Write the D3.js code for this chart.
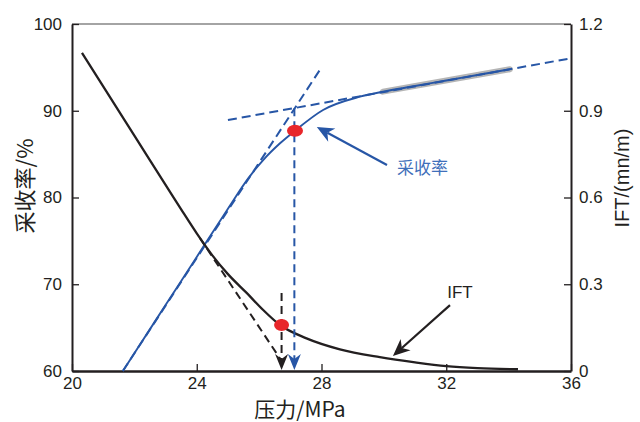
<!DOCTYPE html>
<html><head><meta charset="utf-8">
<script src="https://cdn.jsdelivr.net/npm/d3@7"></script>
<style>
html,body{margin:0;padding:0;background:#fff;}
svg{display:block;}
text{font-family:"Liberation Sans",Arial,sans-serif;fill:#231f20;}
.cjk{font-family:"Noto Sans CJK SC","Liberation Sans",sans-serif;}
</style></head>
<body>
<svg id="chart" width="640" height="422"></svg>
<script>
// ---- data ----
const xTicks = [20, 24, 28, 32, 36];
const leftTicks = [60, 70, 80, 90, 100];
const rightTicks = [0, 0.3, 0.6, 0.9, 1.2];
const rightTickLabels = ["0", "0.3", "0.6", "0.9", "1.2"];

// IFT curve (pressure MPa, IFT mN/m)
const iftPressure = [20.32, 21, 22, 23, 23.5, 24, 24.5, 25.0, 25.6, 26.13, 26.67, 27.52, 28.59, 29.87, 31, 32, 33, 34.3];
const iftValue    = [1.10, 0.984, 0.814, 0.644, 0.559, 0.476, 0.400, 0.335, 0.270, 0.211, 0.159, 0.113, 0.075, 0.048, 0.030, 0.017, 0.010, 0.006];

// Recovery curve (pressure MPa, recovery %)
const recPressure = [21.63, 22, 23, 24, 25, 25.65, 26.13, 26.67, 27.15, 28.05, 29.23, 29.97, 31, 32, 33, 34.04];
const recValue    = [60, 62.05, 67.6, 73.15, 78.7, 82.21, 84.32, 86.25, 87.7, 90.09, 91.62, 92.2, 92.85, 93.49, 94.12, 94.78];

// Tangent / fit lines on recovery
const recTangentP = [21.63, 28.0];
const recTangentV = [60, 95.0];
const recPlateauP = [25.0, 36.0];
const recPlateauV = [88.93, 96.05];
const recHighlightP = [29.97, 34.04];
const recHighlightV = [92.2, 94.78];

// IFT extrapolation line
const iftTangentP = [24.1, 26.72];
const iftTangentV = [0.46, 0.035];

// Markers
const mmpIFT = {p: 26.72, v: 0.159};   // red dot on IFT curve (right axis)
const mmpRec = {p: 27.15, v: 87.7};    // red dot on recovery curve (left axis)
const blackDropP = 26.72, blackDropTop = 0.27;
const blueDropP = 27.13, blueDropTop = 90.3;

// ---- layout ----
const svg = d3.select("#chart");
const L = 72, R = 571, T = 24, B = 371;
const x = d3.scaleLinear().domain([20, 36]).range([L, R]);
const yL = d3.scaleLinear().domain([60, 100]).range([B, T]);
const yR = d3.scaleLinear().domain([0, 1.2]).range([B, T]);

const BLUE = "#2756a6", BLACK = "#231f20", RED = "#e8262a";

// top border
svg.append("line").attr("x1", L).attr("x2", R).attr("y1", T).attr("y2", T)
  .attr("stroke", "#4a4a4a").attr("stroke-width", 1.2);

// axes
const axL = svg.append("g").attr("transform", `translate(${L},0)`)
  .call(d3.axisLeft(yL).tickValues(leftTicks).tickSizeInner(-7).tickSizeOuter(0).tickPadding(10));
const axR = svg.append("g").attr("transform", `translate(${R},0)`)
  .call(d3.axisRight(yR).tickValues(rightTicks).tickFormat((d, i) => rightTickLabels[i]).tickSizeInner(-7).tickSizeOuter(0).tickPadding(8));
const axB = svg.append("g").attr("transform", `translate(0,${B})`)
  .call(d3.axisBottom(x).tickValues(xTicks).tickSizeInner(-7).tickSizeOuter(0).tickPadding(6));
[axL, axR, axB].forEach(g => {
  g.selectAll("text").attr("font-size", 17).attr("fill", BLACK)
    .attr("font-family", "'Liberation Sans',Arial,sans-serif");
  g.selectAll("line").attr("stroke", BLACK).attr("stroke-width", 1.3);
  g.select(".domain").attr("stroke", BLACK).attr("stroke-width", 2);
});
axB.select(".domain").attr("stroke-width", 2.6);
axB.selectAll("text").attr("dy", "0.72em");

// axis titles
svg.append("text").attr("class", "cjk").attr("font-size", 22)
  .attr("transform", "translate(33,186) rotate(-90)").attr("text-anchor", "middle").text("采收率/%");
svg.append("text").attr("font-size", 20)
  .attr("transform", "translate(629,178) rotate(-90)").attr("text-anchor", "middle").text("IFT/(mn/m)");
svg.append("text").attr("class", "cjk").attr("font-size", 21)
  .attr("x", 300).attr("y", 417).attr("text-anchor", "middle").text("压力/MPa");

const pts = (ps, vs) => ps.map((p, i) => [p, vs[i]]);
const lineL = d3.line().x(d => x(d[0])).y(d => yL(d[1]));
const lineR = d3.line().x(d => x(d[0])).y(d => yR(d[1]));

// grey highlight
svg.append("path").attr("d", lineL(pts(recHighlightP, recHighlightV)))
  .attr("stroke", "#b5b5b5").attr("stroke-width", 6).attr("fill", "none").attr("stroke-linecap", "round");

// recovery curve
svg.append("path").attr("d", lineL.curve(d3.curveMonotoneX)(pts(recPressure, recValue)))
  .attr("stroke", BLUE).attr("stroke-width", 1.9).attr("fill", "none");
lineL.curve(d3.curveLinear);

// recovery dashed lines
[[recTangentP, recTangentV], [recPlateauP, recPlateauV]].forEach(([p, v]) => {
  svg.append("path").attr("d", lineL(pts(p, v)))
    .attr("stroke", BLUE).attr("stroke-width", 2).attr("stroke-dasharray", "9,5").attr("fill", "none");
});

// IFT curve
svg.append("path").attr("d", lineR.curve(d3.curveMonotoneX)(pts(iftPressure, iftValue)))
  .attr("stroke", BLACK).attr("stroke-width", 2.3).attr("fill", "none");
lineR.curve(d3.curveLinear);

// IFT dashed extrapolation
svg.append("path").attr("d", lineR(pts(iftTangentP, iftTangentV)))
  .attr("stroke", BLACK).attr("stroke-width", 2).attr("stroke-dasharray", "8,5").attr("fill", "none");

// vertical drops
svg.append("line").attr("x1", x(blackDropP)).attr("x2", x(blackDropP))
  .attr("y1", yR(blackDropTop)).attr("y2", yR(0) - 10)
  .attr("stroke", BLACK).attr("stroke-width", 2).attr("stroke-dasharray", "8,5");
svg.append("line").attr("x1", x(blueDropP)).attr("x2", x(blueDropP))
  .attr("y1", yL(blueDropTop)).attr("y2", yL(60) - 10)
  .attr("stroke", BLUE).attr("stroke-width", 2).attr("stroke-dasharray", "8,5");

// down arrowheads
function downHead(cx, tipY, color) {
  const w = 6.5, h = 16;
  svg.append("path")
    .attr("d", `M${cx},${tipY} L${cx - w},${tipY - h} L${cx},${tipY - h + 5} L${cx + w},${tipY - h} Z`)
    .attr("fill", color);
}
downHead(x(blackDropP), B - 1, BLACK);
downHead(x(blueDropP), B - 1, BLUE);

// red markers
svg.append("ellipse").attr("cx", x(mmpIFT.p)).attr("cy", yR(mmpIFT.v)).attr("rx", 7.5).attr("ry", 6).attr("fill", RED);
svg.append("ellipse").attr("cx", x(mmpRec.p)).attr("cy", yL(mmpRec.v)).attr("rx", 8).attr("ry", 6).attr("fill", RED);

// annotation arrows
function arrow(x1, y1, x2, y2, color) {
  const ang = Math.atan2(y2 - y1, x2 - x1);
  const len = 17, w = 7.5, notch = 12;
  const bx = x2 - len * Math.cos(ang), by = y2 - len * Math.sin(ang);
  const nx = x2 - notch * Math.cos(ang), ny = y2 - notch * Math.sin(ang);
  const px = -Math.sin(ang), py = Math.cos(ang);
  svg.append("line").attr("x1", x1).attr("y1", y1).attr("x2", nx).attr("y2", ny)
    .attr("stroke", color).attr("stroke-width", 2.2);
  svg.append("path")
    .attr("d", `M${x2},${y2} L${bx + px * w},${by + py * w} L${nx},${ny} L${bx - px * w},${by - py * w} Z`)
    .attr("fill", color);
}
// 采收率 annotation
arrow(x(30.1), yL(83.75), x(27.85), yL(88.13), BLUE);
svg.append("text").attr("class", "cjk").attr("font-size", 17).style("fill", "#3f6fba")
  .attr("x", x(30.42)).attr("y", yL(83.4)).attr("dy", "0.35em").text("采收率");
// IFT annotation
arrow(x(32.12), yR(0.228), x(30.29), yR(0.052), BLACK);
svg.append("text").attr("font-size", 17).attr("text-anchor", "middle")
  .attr("x", x(32.44)).attr("y", yR(0.252)).text("IFT");
</script>
</body></html>
